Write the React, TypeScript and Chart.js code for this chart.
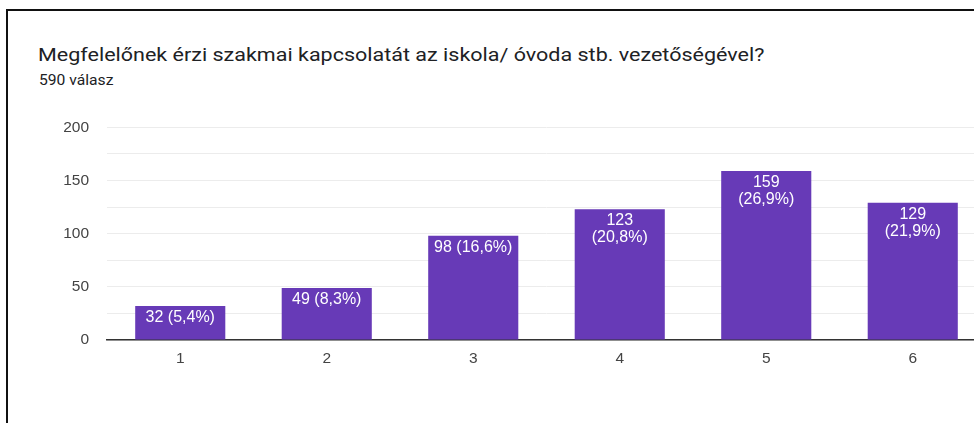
import React, { useEffect, useRef } from "react";
import { Chart, registerables } from "chart.js";

Chart.register(...registerables);

const title = "Megfelelőnek érzi szakmai kapcsolatát az iskola/ óvoda stb. vezetőségével?";
const subtitle = "590 válasz";
const categories = ["1", "2", "3", "4", "5", "6"];
const counts = [32, 49, 98, 123, 159, 129];
const percents = ["5,4%", "8,3%", "16,6%", "20,8%", "26,9%", "21,9%"];
const yMax = 200;
const yStep = 25;
const yLabelStep = 50;

const BAR_COLOR = "#673ab7";
const FONT = "'Liberation Sans', Arial, sans-serif";

const barLabelPlugin = {
  id: "barLabels",
  afterDatasetsDraw(chart: any) {
    const ctx = chart.ctx;
    const meta = chart.getDatasetMeta(0);
    ctx.save();
    ctx.font = `16px ${FONT}`;
    ctx.fillStyle = "#ffffff";
    ctx.textAlign = "center";
    ctx.textBaseline = "alphabetic";
    meta.data.forEach((bar: any, i: number) => {
      const full = `${counts[i]} (${percents[i]})`;
      const w = bar.width;
      const lines = ctx.measureText(full).width > w - 6 ? [`${counts[i]}`, `(${percents[i]})`] : [full];
      lines.forEach((line: string, j: number) => {
        ctx.fillText(line, bar.x, bar.y + 16 + j * 17);
      });
    });
    ctx.restore();
  },
};

export default function App() {
  const canvasRef = useRef<HTMLCanvasElement | null>(null);

  useEffect(() => {
    document.body.style.margin = "0";
    document.body.style.overflow = "hidden";
    const chart = new Chart(canvasRef.current as HTMLCanvasElement, {
      type: "bar",
      data: {
        labels: categories,
        datasets: [
          {
            data: counts,
            backgroundColor: BAR_COLOR,
            borderWidth: 0,
            barPercentage: 0.615,
            categoryPercentage: 1,
          },
        ],
      },
      options: {
        responsive: false,
        animation: false,
        maintainAspectRatio: false,
        layout: { padding: { top: 26, bottom: 20, left: 0, right: 0 } },
        plugins: {
          legend: { display: false },
          tooltip: { enabled: false },
        },
        scales: {
          x: {
            grid: { display: false, drawTicks: false },
            border: { display: true, color: "#333333", width: 1.5 },
            ticks: {
              color: "#444444",
              font: { family: FONT, size: 15.5 },
              padding: 9,
            },
            afterFit: (s: any) => {
              s.height = 40;
            },
          },
          y: {
            min: 0,
            max: yMax,
            grid: { color: "#ececec", lineWidth: 1, drawTicks: false },
            border: { display: false },
            ticks: {
              stepSize: yStep,
              color: "#444444",
              font: { family: FONT, size: 15.5 },
              padding: 18,
              autoSkip: false,
              callback: (v: any) => (Number(v) % yLabelStep === 0 ? String(v) : ""),
            },
            afterFit: (s: any) => {
              s.width = 107;
            },
          },
        },
      },
      plugins: [barLabelPlugin],
    });
    return () => chart.destroy();
  }, []);

  return (
    <div
      style={{
        position: "fixed",
        left: 0,
        top: 0,
        width: 974,
        height: 423,
        overflow: "hidden",
        background: "#ffffff",
      }}
    >
      <div
        style={{
          position: "absolute",
          left: 6,
          top: 9,
          width: 1200,
          height: 600,
          borderTop: "2px solid #111",
          borderLeft: "2px solid #111",
        }}
      />
      <div
        style={{
          position: "absolute",
          left: 38,
          top: 43.5,
          fontFamily: "Roboto, 'Noto Sans', sans-serif",
          fontSize: 18,
          lineHeight: "22px",
          color: "#202124",
          whiteSpace: "nowrap",
          transform: "scaleX(1.195)",
          transformOrigin: "0 0",
        }}
      >
        {title}
      </div>
      <div
        style={{
          position: "absolute",
          left: 39,
          top: 72,
          fontFamily: "Roboto, 'Noto Sans', sans-serif",
          fontSize: 14.5,
          lineHeight: "17px",
          color: "#202124",
          whiteSpace: "nowrap",
          transform: "scaleX(1.08)",
          transformOrigin: "0 0",
        }}
      >
        {subtitle}
      </div>
      <canvas
        ref={canvasRef}
        width={986}
        height={300}
        style={{ position: "absolute", left: 0, top: 100, width: 986, height: 300 }}
      />
    </div>
  );
}
